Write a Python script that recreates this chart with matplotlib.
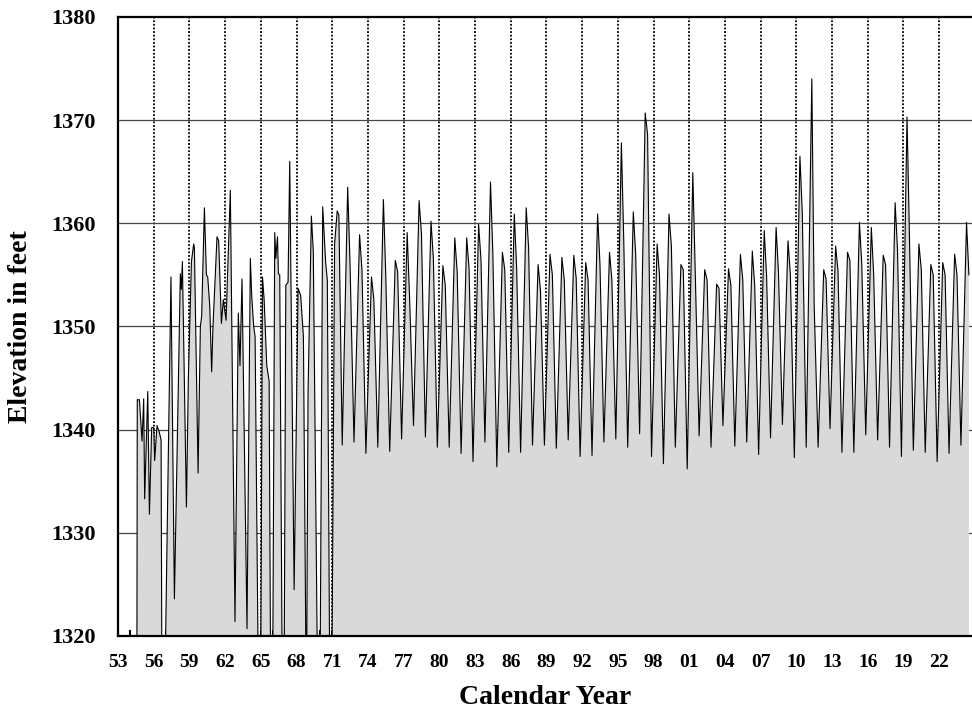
import numpy as np
import matplotlib
matplotlib.use('Agg')
import matplotlib.pyplot as plt
from matplotlib.ticker import FixedLocator, MultipleLocator

# early record, irregular readings (decimal year, elevation in feet)
# values of 1312 are below the bottom of the chart
early_t = [1954.58, 1954.62, 1954.80, 1955.02, 1955.16, 1955.24, 1955.50, 1955.64,
           1955.83, 1956.00, 1956.08, 1956.28, 1956.48, 1956.62, 1956.70, 1956.90,
           1957.45, 1957.74, 1958.24, 1958.32, 1958.41, 1958.75, 1958.91, 1959.17,
           1959.36, 1959.42, 1959.73, 1959.92, 1960.03, 1960.26, 1960.43, 1960.54,
           1960.71, 1960.87, 1960.98, 1961.32, 1961.46, 1961.69, 1961.85, 1962.08,
           1962.44, 1962.83, 1963.11, 1963.25, 1963.42, 1963.84, 1964.12, 1964.24,
           1964.40, 1964.52, 1964.82, 1965.00, 1965.14, 1965.28, 1965.50, 1965.70,
           1965.84, 1966.00, 1966.17, 1966.26, 1966.40, 1966.48, 1966.59, 1966.82,
           1966.96, 1967.10, 1967.29, 1967.43, 1967.80, 1968.13, 1968.35, 1968.58,
           1968.83, 1968.97, 1969.25, 1969.41, 1969.80, 1970.00, 1970.20, 1970.45,
           1970.59, 1970.81, 1970.95, 1971.20, 1971.42, 1971.56, 1971.84]
early_v = [1312, 1342.9, 1342.9, 1338.9, 1343.0, 1333.3, 1343.7, 1331.8,
           1340.2, 1340.2, 1337.0, 1340.4, 1339.7, 1339.0, 1312, 1312,
           1354.8, 1323.6, 1355.1, 1353.6, 1356.3, 1332.5, 1344.9, 1356.3,
           1358.0, 1357.6, 1335.8, 1350.0, 1351.0, 1361.5, 1355.0, 1354.8,
           1352.0, 1345.6, 1350.0, 1358.7, 1358.3, 1350.3, 1352.6, 1350.6,
           1363.2, 1321.4, 1351.3, 1346.2, 1354.6, 1320.7, 1356.6, 1352.9,
           1350.0, 1349.0, 1312, 1318, 1354.8, 1352.6, 1346.2, 1344.7,
           1312, 1316, 1359.1, 1356.6, 1358.7, 1355.1, 1355.0, 1312,
           1316, 1354.0, 1354.3, 1366.0, 1324.5, 1353.7, 1353.0, 1349.0,
           1312, 1343.7, 1360.7, 1357.3, 1312, 1320, 1361.6, 1356.2,
           1354.5, 1312, 1312, 1358.0, 1361.2, 1360.8, 1338.5]

# 1972 onward: spring peak, summer shoulder and autumn low for each year
years = np.arange(1972, 2025)
peak = [1363.5, 1358.9, 1354.8, 1362.3, 1356.4, 1359.1, 1362.2, 1360.2, 1355.9, 1358.6,
        1358.6, 1359.9, 1364.0, 1357.2, 1360.9, 1361.5, 1356.0, 1357.0, 1356.7, 1356.9,
        1356.2, 1360.9, 1357.2, 1367.8, 1361.1, 1370.7, 1358.0, 1360.9, 1356.0, 1364.9,
        1355.5, 1354.1, 1355.6, 1357.0, 1357.3, 1359.3, 1359.6, 1358.3, 1366.5, 1374.0,
        1355.5, 1357.8, 1357.2, 1360.1, 1359.6, 1356.9, 1362.0, 1370.3, 1358.0, 1356.0,
        1356.2, 1357.0, 1360.1]
shoulder = [1356.0, 1355.5, 1352.6, 1355.0, 1355.3, 1352.8, 1359.0, 1356.6, 1354.0, 1355.3,
            1355.6, 1356.5, 1357.0, 1355.5, 1355.6, 1357.7, 1353.5, 1355.0, 1354.5, 1354.7,
            1354.5, 1356.0, 1354.5, 1358.2, 1357.0, 1368.6, 1355.0, 1357.8, 1355.5, 1355.5,
            1354.5, 1353.7, 1354.0, 1354.5, 1354.0, 1354.9, 1355.2, 1355.0, 1361.0, 1352.0,
            1354.6, 1355.4, 1356.4, 1356.0, 1355.0, 1356.0, 1357.5, 1359.0, 1355.5, 1355.0,
            1355.0, 1355.0, 1355.0]
low = [1338.8, 1337.7, 1338.3, 1337.9, 1339.1, 1340.4, 1339.3, 1338.3, 1338.3, 1337.7,
       1336.9, 1338.8, 1336.4, 1337.8, 1337.8, 1338.5, 1338.5, 1338.2, 1339.0, 1337.4,
       1337.5, 1338.8, 1339.1, 1338.3, 1339.6, 1337.4, 1336.7, 1338.3, 1336.2, 1339.4,
       1338.3, 1340.4, 1338.4, 1338.8, 1337.6, 1339.2, 1340.5, 1337.3, 1338.3, 1338.3,
       1340.1, 1337.8, 1337.8, 1339.5, 1339.0, 1338.3, 1337.4, 1338.0, 1337.8, 1336.9,
       1337.7, 1338.5]

tick_years = list(range(1953, 2023, 3))
tick_labels = ['53', '56', '59', '62', '65', '68', '71', '74', '77', '80', '83', '86',
               '89', '92', '95', '98', '01', '04', '07', '10', '13', '16', '19', '22']

t = list(early_t)
v = list(early_v)
for i, yr in enumerate(years):
    t += [yr + 0.30, yr + 0.50]
    v += [peak[i], shoulder[i]]
    if i < len(low):
        t.append(yr + 0.83)
        v.append(low[i])
t = np.array(t)
v = np.array(v)

plt.rcParams['font.family'] = ['Liberation Serif', 'DejaVu Serif']
plt.rcParams['font.weight'] = 'bold'

fig = plt.figure(figsize=(9.72, 7.13), dpi=100)
ax = fig.add_axes([0.1214, 0.108, 0.8786, 0.8682])

ax.fill_between(t, v, 1300, color='#d9d9d9', lw=0, zorder=2)
ax.plot(t, v, color='black', lw=0.8, zorder=3)

ax.set_xlim(1953, 2024.76)
ax.set_ylim(1320, 1380)
ax.set_axisbelow(True)

ax.xaxis.set_major_locator(FixedLocator(tick_years))
ax.set_xticklabels(tick_labels)
ax.xaxis.set_minor_locator(MultipleLocator(1))
ax.set_yticks(np.arange(1320, 1381, 10))

ax.tick_params(axis='x', which='both', direction='in', length=4, width=1.5,
               labelsize=14, pad=13)
ax.tick_params(axis='y', which='both', length=0, labelsize=16, pad=16)

for yr in tick_years[1:]:
    ax.axvline(yr, color='black', lw=1.3, ls=(0, (1, 1)), zorder=1)
for lev in range(1330, 1380, 10):
    ax.axhline(lev, color='#444444', lw=0.9, zorder=1)

for s in ['left', 'top', 'bottom']:
    ax.spines[s].set_linewidth(1.6)
ax.spines['right'].set_visible(False)

ax.set_xlabel('Calendar Year', fontsize=20, fontweight='bold', labelpad=10)
ax.set_ylabel('Elevation in feet', fontsize=20, fontweight='bold', labelpad=13)

fig.savefig('out.png', dpi=100)
